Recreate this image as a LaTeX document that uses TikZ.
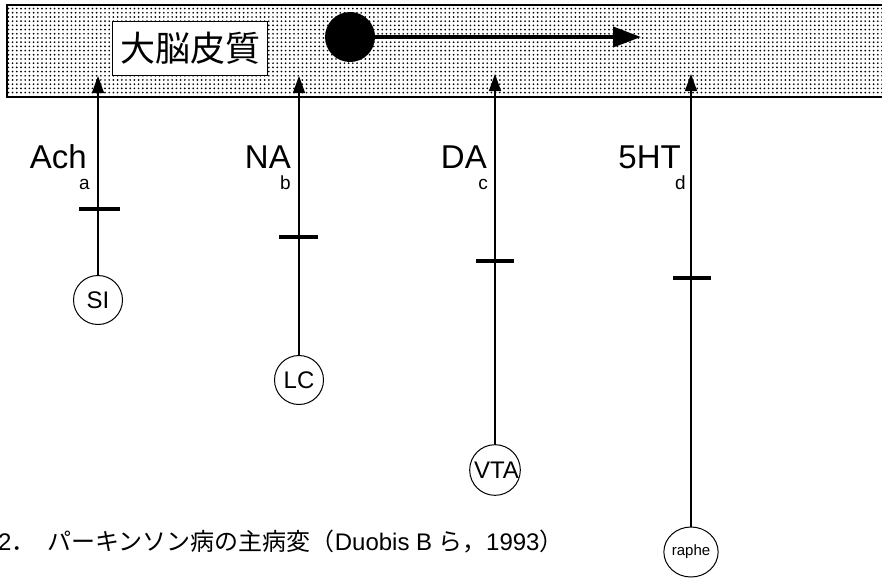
\documentclass[tikz,border=0pt]{standalone}
\usepackage{fontspec}
\setmainfont{Liberation Sans}
\newfontfamily\jpfont{Noto Sans CJK JP}
\usetikzlibrary{arrows.meta,patterns.meta,shapes.geometric}
\tikzset{
  band/.style={pattern={Dots[distance=4.2pt,radius=0.95pt]},pattern color=black},
  nucleus/.style={draw,circle,line width=1pt,minimum size=49pt,inner sep=0pt,font=\fontsize{24}{26}\selectfont},
  proj/.style={line width=1.3pt,-{Triangle[length=17pt,width=12pt]}},
  tickbar/.style={line width=4pt},
  trans/.style={font=\fontsize{33}{35}\selectfont,anchor=base east,inner sep=0pt},
  sub/.style={font=\fontsize{19}{21}\selectfont,anchor=base east,inner sep=0pt},
}
\begin{document}
\begin{tikzpicture}[x=1pt,y=-1pt]
\useasboundingbox (0,0) rectangle (882,584);
% cortex band
\fill[band] (7,6) rectangle (884,97);
\draw[line width=1.6pt] (884,5) -- (7,5) -- (7,97) -- (884,97);
\node[draw,fill=white,line width=1pt,minimum width=155pt,minimum height=54pt,inner sep=0pt,font=\jpfont\fontsize{35}{37}\selectfont] (ctx) at (190,48) {大脳皮質};
% horizontal arrow in cortex
\node[circle,fill=black,minimum size=50pt,inner sep=0pt] (dot) at (350,37) {};
\coordinate (htip) at (641,37);
\draw[line width=4pt,-{Triangle[length=28pt,width=20pt]}] (dot) -- (htip);
% nuclei
\node[nucleus] (SI) at (98,300) {SI};
\node[nucleus] (LC) at (299,380) {LC};
\node[nucleus] (VTA) at (495,470) {\hspace{3pt}VTA};
\node[nucleus,ellipse,minimum width=46pt,minimum height=50pt,font=\fontsize{15}{17}\selectfont] (raphe) at (691,552) {raphe};
% arrow tips
\coordinate (ta) at (98,76);
\coordinate (tb) at (299,76);
\coordinate (tc) at (495,74);
\coordinate (td) at (691,74);
\draw[proj] (SI) -- (ta);
\draw[proj] (LC) -- (tb);
\draw[proj] (VTA) -- (tc);
\draw[proj] (raphe) -- (td);
% lesion ticks
\draw[tickbar] (79,209) -- (120,209);
\draw[tickbar] (279,237) -- (318,237);
\draw[tickbar] (476,261) -- (514,261);
\draw[tickbar] (673,278) -- (711,278);
% labels
\node[trans] (lAch) at (87,168) {Ach};
\node[sub] (la) at (90,189) {a};
\node[trans] (lNA) at (291,168) {NA};
\node[sub] (lb) at (291,189) {b};
\node[trans] (lDA) at (487,168) {DA};
\node[sub] (lc) at (488,189) {c};
\node[trans] (l5HT) at (681,168) {5HT};
\node[sub] (ld) at (686,189) {d};
% caption
\node[anchor=base west,inner sep=0pt,font=\fontsize{24}{26}\selectfont] (cap) at (-2,550) {2{\jpfont ．}\hspace{12pt}{\jpfont パーキンソン病の主病変（}Duobis B {\jpfont ら，}1993{\jpfont ）}};
\end{tikzpicture}
\end{document}
